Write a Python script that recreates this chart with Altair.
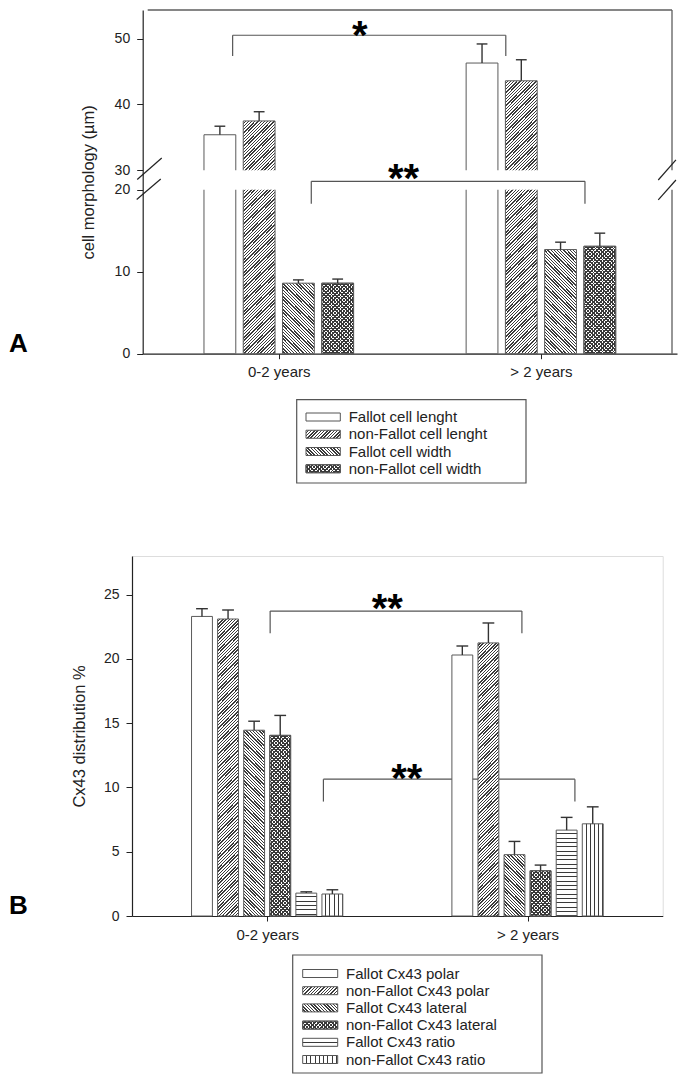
import math
import altair as alt
import pandas as pd

# ---------------- data ----------------
groups = ["0-2 years", "> 2 years"]

seriesA = ["Fallot cell lenght", "non-Fallot cell lenght", "Fallot cell width", "non-Fallot cell width"]
A_mean_02 = [35.4, 37.5, 8.6, 8.6]
A_err_02 = [1.3, 1.4, 0.4, 0.5]
A_mean_gt2 = [46.3, 43.6, 12.7, 13.1]
A_err_gt2 = [2.9, 3.2, 0.9, 1.6]
A_patterns = ["none", "fwd", "back", "cross"]
A_ticks = [0, 10, 20, 30, 40, 50]
A_domain = [0, 20, 30, 54.36]          # broken axis: 0-20 and 30-54
A_title = "cell morphology (µm)"

seriesB = ["Fallot Cx43 polar", "non-Fallot Cx43 polar", "Fallot Cx43 lateral",
           "non-Fallot Cx43 lateral", "Fallot Cx43 ratio", "non-Fallot Cx43 ratio"]
B_mean_02 = [23.3, 23.1, 14.45, 14.05, 1.78, 1.71]
B_err_02 = [0.6, 0.7, 0.7, 1.55, 0.1, 0.33]
B_mean_gt2 = [20.3, 21.24, 4.77, 3.52, 6.68, 7.17]
B_err_gt2 = [0.7, 1.55, 1.03, 0.44, 0.99, 1.32]
B_patterns = ["none", "fwd", "back", "cross", "horiz", "vert"]
B_ticks = [0, 5, 10, 15, 20, 25]
B_domain = [0, 28]
B_title = "Cx43 distribution %"

# significance brackets (x as fraction of plot width, y in data units)
A_br_x1 = [0.162, 0.312]
A_br_x2 = [0.683, 0.834]
A_br_top = [50.52, 24.33]
A_br_leg = [47.37, 18.3]
A_star_text = ["*", "**"]
A_star_x = [0.4043, 0.488]
A_star_y = [51.78, 30.0]

B_br_x1 = [0.2557, 0.358]
B_br_x2 = [0.7392, 0.841]
B_br_top = [23.72, 10.64]
B_br_leg = [22.0, 8.9]
B_star_text = ["**", "**"]
B_star_x = [0.4805, 0.518]
B_star_y = [24.55, 11.34]

# axis-break slashes (panel A)
A_brk_x1 = [-0.020, -0.021, 0.9738, 0.9738]
A_brk_y1 = [25.26, 18.81, 25.0, 18.77]
A_brk_x2 = [0.0268, 0.0249, 1.0075, 1.0075]
A_brk_y2 = [31.87, 25.5, 31.57, 25.0]

# ---------------- style / layout ----------------
FONT = "Liberation Sans"
INK = "#3a3a3a"
CLEAR = "rgba(255,255,255,0)"
OUTLINE = "#5a5a5a"
FRAME = "#5e5e5e"

# panel A: its group starts SHIFT px left of its frame so both panels share one origin
SHIFT = 10.7
WA_plot, HA = 534.3, 343.7
WA = WA_plot + SHIFT
A_xrange = [SHIFT, WA]
A_range = [343.7, 179.7, 160.3, 0]
WB, HB = 530.7, 360.0
B_xrange = [0, WB]
B_range = [360.0, 0]

A_band, A_oin = 0.5706, 0.19
B_band, B_oin = 0.581, 0.20

EXTENT = [-123.0, 549.0]


def piecewise_px(v, dom, rng):
    for i in range(len(dom) - 1):
        if v <= dom[i + 1] or i == len(dom) - 2:
            t = (v - dom[i]) / (dom[i + 1] - dom[i])
            return rng[i] + t * (rng[i + 1] - rng[i])


# ---------------- hatch gradients ----------------
def stripe_stops(n, frac, dark, light):
    out = []
    k = 0
    while k < n:
        a = k / n
        b = min((k + 1 - frac) / n, 1.0)
        c = min((k + 1) / n, 1.0)
        out += [{"offset": round(a, 5), "color": light},
                {"offset": round(b, 5), "color": light},
                {"offset": round(b, 5), "color": dark},
                {"offset": round(c, 5), "color": dark}]
        k += 1
    return out


def diag(w, h, period, frac, fwd, light):
    S = w + h
    D = w * w + h * h
    n = S / (period * math.sqrt(2))
    if fwd:
        x1, y1, x2, y2 = 0, 0, w * S / D, h * S / D
    else:
        x1, y1, x2, y2 = 0, 1, w * S / D, 1 - h * S / D
    return {"gradient": "linear", "x1": round(x1, 5), "y1": round(y1, 5),
            "x2": round(x2, 5), "y2": round(y2, 5),
            "stops": stripe_stops(n, frac, INK, light)}


def straight(length, period, vertical_lines):
    n = length / period
    frac = 1.0 / period
    if vertical_lines:
        x1, y1, x2, y2 = 0, 0, 1, 0
    else:
        x1, y1, x2, y2 = 0, 0, 0, 1
    return {"gradient": "linear", "x1": x1, "y1": y1, "x2": x2, "y2": y2,
            "stops": stripe_stops(n, frac, INK, "white")}


def fills_for(p, w, h):
    h = max(h, 1.0)
    if p == "none":
        return ["white"]
    if p == "fwd":
        return [diag(w, h, 2.3, 0.42, True, "white")]
    if p == "back":
        return [diag(w, h, 2.3, 0.42, False, "white")]
    if p == "cross":
        return [diag(w, h, 2.6, 0.45, True, "white"), diag(w, h, 2.6, 0.45, False, CLEAR)]
    if p == "horiz":
        return [straight(h, 4.3, False)]
    return [straight(w, 4.3, True)]


# ---------------- builders ----------------
def make_df(series, m1, e1, m2, e2):
    rows = []
    for gi, (g, ms, es) in enumerate([(groups[0], m1, e1), (groups[1], m2, e2)]):
        for si, (s, m, e) in enumerate(zip(series, ms, es)):
            rows.append({"group": g, "gi": gi, "series": s, "si": si, "mean": m, "err": e})
    return pd.DataFrame(rows)


label_expr = " : ".join(
    [f"datum.value < {(i + 1) / len(groups)} ? '{g}'" for i, g in enumerate(groups[:-1])]
    + [f"'{groups[-1]}'"])
XAXIS = alt.Axis(values=[(i + 0.5) / len(groups) for i in range(len(groups))], labelExpr=label_expr,
                 title=None, grid=False, labelAngle=0, labelFontSize=15, labelFont=FONT,
                 labelColor="#222", tickColor="#222", domainColor="#222", domainWidth=1.2,
                 tickSize=5, labelPadding=6)


class Panel:
    def __init__(self, xrange, W, ydomain, yrange, yaxis):
        self.xscale = alt.Scale(domain=[0, 1], range=xrange, nice=False, zero=False)
        self.yscale = alt.Scale(domain=ydomain, range=yrange, zero=False, nice=False)
        self.yaxis = yaxis
        self.W = W
        self.ydomain = ydomain
        self.yrange = yrange

    def x(self, field):
        return alt.X(f"{field}:Q", scale=self.xscale, axis=XAXIS)

    def y(self, field):
        return alt.Y(f"{field}:Q", scale=self.yscale, axis=self.yaxis)

    def px(self, v):
        return piecewise_px(v, self.ydomain, self.yrange)


def bars_layers(P, df, series, patterns, band_frac, oin, cap_px):
    n = len(series)
    step_u = 1.0 / len(groups)
    band_u = step_u * band_frac
    ostep_u = band_u / (n - oin)
    bw_u = ostep_u * (1 - oin)
    bw_px = bw_u * P.W
    half_cap = cap_px / 2 / P.W
    calc = dict(x0=f"(datum.gi + 0.5) * {step_u} - {band_u / 2} + datum.si * {ostep_u}")
    layers = []
    for _, r in df.iterrows():
        p = patterns[int(r["si"])]
        h = P.px(0) - P.px(r["mean"])
        for f in fills_for(p, bw_px, h):
            layers.append(
                alt.Chart(df).mark_bar(fill=f, stroke=OUTLINE, strokeWidth=1, orient="vertical")
                .transform_filter(f"datum.gi === {int(r['gi'])} && datum.si === {int(r['si'])}")
                .transform_calculate(**calc)
                .transform_calculate(x1=f"datum.x0 + {bw_u}")
                .encode(x=P.x("x0"), x2="x1:Q", y=P.y("mean"), y2=alt.datum(0))
            )
    err_base = (alt.Chart(df).transform_calculate(**calc)
                .transform_calculate(xc=f"datum.x0 + {bw_u / 2}", top="datum.mean + datum.err")
                .transform_calculate(ca=f"datum.xc - {half_cap}", cb=f"datum.xc + {half_cap}"))
    err_rule = err_base.mark_rule(color="#333", strokeWidth=1.4).encode(
        x=P.x("xc"), y=P.y("mean"), y2="top:Q")
    err_cap = err_base.mark_rule(color="#333", strokeWidth=1.4).encode(
        x=P.x("ca"), x2="cb:Q", y=P.y("top"), y2="top:Q")
    return layers + [err_rule, err_cap]


def segments_chart(P, x1, y1, x2, y2, color, width):
    df = pd.DataFrame({"x": x1, "y": y1, "x2": x2, "y2": y2})
    return (alt.Chart(df).mark_rule(color=color, strokeWidth=width)
            .encode(x=P.x("x"), x2="x2:Q", y=P.y("y"), y2="y2:Q"))


def brackets_chart(P, x1s, x2s, tops, legs):
    a, b, c, d = [], [], [], []
    for x1, x2, t, l in zip(x1s, x2s, tops, legs):
        for seg in [(x1, t, x2, t), (x1, t, x1, l), (x2, t, x2, l)]:
            a.append(seg[0]); b.append(seg[1]); c.append(seg[2]); d.append(seg[3])
    return segments_chart(P, a, b, c, d, "#555", 1.2)


def stars_chart(P, texts, xs, ys, size=40):
    df = pd.DataFrame({"t": texts, "x": xs, "y": ys})
    return (alt.Chart(df).mark_text(font=FONT, fontSize=size, fontWeight="bold", color="black",
                                    align="center", baseline="alphabetic", dy=0.55 * size)
            .encode(x=P.x("x"), y=P.y("y"), text="t:N"))


def legend_layers(labels, patterns, box, sw_x0, sw_x1, text_x, y0, dy):
    one = pd.DataFrame({"k": [0]})
    layers = [alt.Chart(one).mark_rect(fill="white", fillOpacity=0, stroke="#555", strokeWidth=1.2)
              .encode(x=alt.value(box[0]), x2=alt.value(box[1]), y=alt.value(box[2]), y2=alt.value(box[3]))]
    for i, (lab, p) in enumerate(zip(labels, patterns)):
        cy = y0 + i * dy
        for f in fills_for(p, sw_x1 - sw_x0, 8):
            layers.append(alt.Chart(one).mark_rect(fill=f, stroke="#555", strokeWidth=1)
                          .encode(x=alt.value(sw_x0), x2=alt.value(sw_x1),
                                  y=alt.value(cy - 4), y2=alt.value(cy + 4)))
        layers.append(alt.Chart(pd.DataFrame({"label": [lab]}))
                      .mark_text(font=FONT, fontSize=15, color="#222", align="left", baseline="middle")
                      .encode(x=alt.value(text_x), y=alt.value(cy), text="label:N"))
    return layers


def panel_label(letter, x, y):
    return (alt.Chart(pd.DataFrame({"t": [letter]}))
            .mark_text(font=FONT, fontSize=26, fontWeight="bold", color="black",
                       align="left", baseline="alphabetic")
            .encode(x=alt.value(x), y=alt.value(y), text="t:N"))


def extent_rule(ext):
    return (alt.Chart(pd.DataFrame({"k": [0]})).mark_rule(opacity=0, strokeWidth=1)
            .encode(x=alt.value(ext[0]), x2=alt.value(ext[1]), y=alt.value(1), y2=alt.value(1)))


def y_axis(ticks, title, H, title_x, offset=0):
    return alt.Axis(values=ticks, title=title, grid=False, tickSize=6, labelPadding=7,
                    labelFontSize=14, labelFont=FONT, labelColor="#222", tickColor="#222",
                    domainColor="#222", domainWidth=1.2, titleFont=FONT, titleFontSize=16.5,
                    titleFontWeight="normal", titleColor="#222", titleAngle=270,
                    titleX=title_x, titleY=H / 2, titleAlign="center", titleBaseline="middle",
                    offset=offset)


# ---------------- panel A ----------------
dfA = make_df(seriesA, A_mean_02, A_err_02, A_mean_gt2, A_err_gt2)
PA = Panel(A_xrange, WA_plot, A_domain, A_range, y_axis(A_ticks, A_title, HA, -54, -SHIFT))
ytopA = A_domain[-1]

frameA = segments_chart(PA, [0, 1], [ytopA, 0], [1, 1], [ytopA, ytopA], FRAME, 1.3)
gapA = (alt.Chart(pd.DataFrame({"x": [-0.0025], "x2": [1.0025], "y": [A_domain[1]], "y2": [A_domain[2]]}))
        .mark_rect(fill="white").encode(x=PA.x("x"), x2="x2:Q", y=PA.y("y"), y2="y2:Q"))

panelA = alt.layer(
    frameA,
    *bars_layers(PA, dfA, seriesA, A_patterns, A_band, A_oin, 11),
    gapA,
    brackets_chart(PA, A_br_x1, A_br_x2, A_br_top, A_br_leg),
    stars_chart(PA, A_star_text, A_star_x, A_star_y),
    segments_chart(PA, A_brk_x1, A_brk_y1, A_brk_x2, A_brk_y2, "#222", 1.2),
    *legend_layers(seriesA, A_patterns, [164.7, 394.0, 389.7, 473], 174.0, 208.3, 216.7, 407, 17.25),
    panel_label("A", EXTENT[0], 342),
    extent_rule(EXTENT),
).properties(width=WA, height=HA, view=alt.ViewBackground(stroke="transparent"))

# ---------------- panel B ----------------
dfB = make_df(seriesB, B_mean_02, B_err_02, B_mean_gt2, B_err_gt2)
PB = Panel(B_xrange, WB, B_domain, B_range, y_axis(B_ticks, B_title, HB, -53))

panelB = alt.layer(
    brackets_chart(PB, B_br_x1, B_br_x2, B_br_top, B_br_leg),
    *bars_layers(PB, dfB, seriesB, B_patterns, B_band, B_oin, 12),
    stars_chart(PB, B_star_text, B_star_x, B_star_y),
    *legend_layers(seriesB, B_patterns, [160.7, 410, 399, 517], 170.7, 205.7, 214, 417.5, 17.2),
    panel_label("B", EXTENT[0], 358),
    extent_rule(EXTENT),
).properties(width=WB, height=HB)

chart = (alt.concat(panelA, panelB, columns=1, spacing=70, align="none", padding=0)
         .configure_view(stroke=FRAME, strokeWidth=1.3)
         .configure(background="white", font=FONT))

chart.save("out.html", embed_options={"renderer": "svg", "actions": False})
